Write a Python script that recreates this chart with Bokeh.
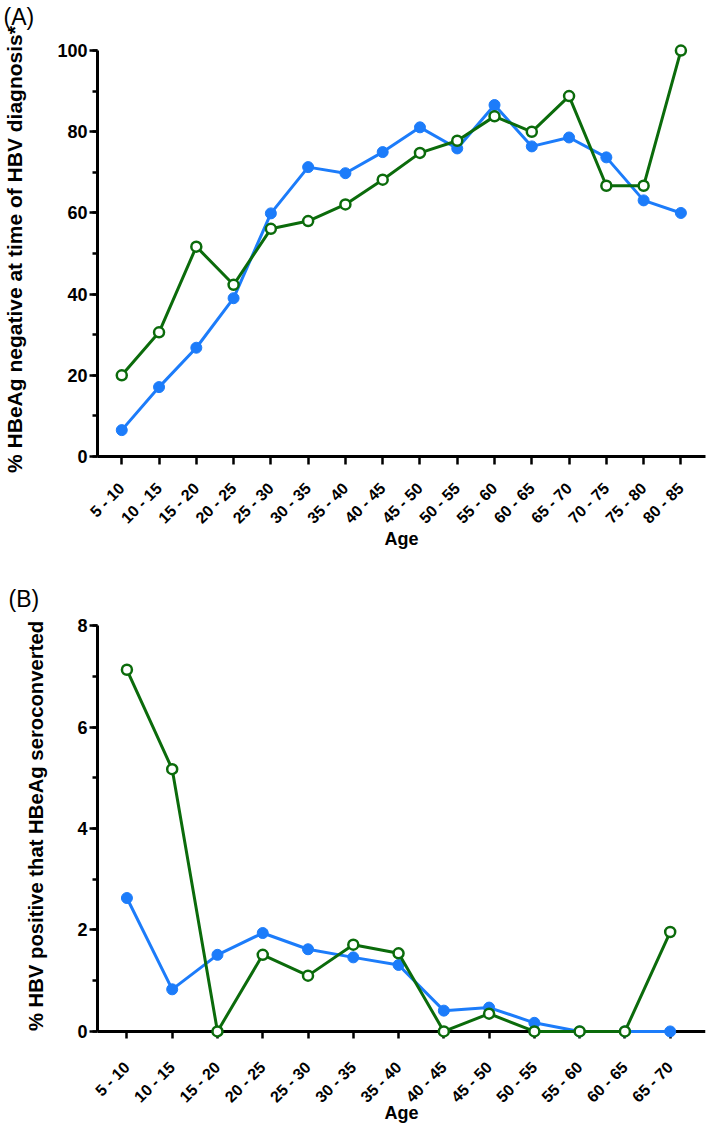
import math
from bokeh.plotting import figure
from bokeh.models import Range1d, FixedTicker, SingleIntervalTicker, Span, Title
from bokeh.layouts import column
from bokeh.embed import file_html
from bokeh.resources import INLINE

FONT = "Liberation Sans"
BLUE = "#1c7cfa"
GREEN = "#0b6b0b"

# ---------------- data ----------------
age_groups_a = ["5 - 10", "10 - 15", "15 - 20", "20 - 25", "25 - 30", "30 - 35",
                "35 - 40", "40 - 45", "45 - 50", "50 - 55", "55 - 60", "60 - 65",
                "65 - 70", "70 - 75", "75 - 80", "80 - 85"]
blue_a = [6.5, 17.1, 26.8, 39.0, 59.9, 71.3, 69.8, 75.0, 81.1, 75.9, 86.6, 76.4,
          78.6, 73.7, 63.1, 60.0]
green_a = [20.0, 30.6, 51.7, 42.3, 56.1, 58.0, 62.1, 68.2, 74.8, 77.8, 83.8, 80.0,
           88.8, 66.7, 66.7, 100.0]

age_groups_b = ["5 - 10", "10 - 15", "15 - 20", "20 - 25", "25 - 30", "30 - 35",
                "35 - 40", "40 - 45", "45 - 50", "50 - 55", "55 - 60", "60 - 65",
                "65 - 70"]
blue_b = [2.63, 0.83, 1.51, 1.94, 1.62, 1.46, 1.31, 0.41, 0.47, 0.17, 0.0, 0.0, 0.0]
green_b = [7.13, 5.17, 0.0, 1.51, 1.10, 1.71, 1.54, 0.0, 0.35, 0.0, 0.0, 0.0, 1.96]

ylabel_a = "% HBeAg negative at time of HBV diagnosis*"
ylabel_b = "% HBV positive that HBeAg seroconverted"
xlabel = "Age"


def build(cats, blue, green, ylabel, letter, width, height, x_range, y_range,
          y_bounds, y_interval, borders, x_tick_in, x_tick_out, x_label_standoff,
          y_title_standoff, y_title_size, x_title_standoff, title_standoff,
          spacer, zero_line):
    xs = list(range(len(cats)))
    p = figure(width=width, height=height,
               x_range=Range1d(*x_range), y_range=Range1d(*y_range),
               output_backend="svg", toolbar_location=None,
               min_border_left=borders[0], min_border_right=borders[1],
               min_border_top=borders[2], min_border_bottom=borders[3])
    p.outline_line_color = None
    p.grid.visible = False
    p.background_fill_color = "white"
    p.border_fill_color = "white"

    p.title.text = ""
    if spacer is not None:
        p.add_layout(Title(text=" ", text_font_size="1px", standoff=spacer,
                           text_color="white"), "above")
    p.add_layout(Title(text=letter, align="left", vertical_align="bottom",
                       offset=-(borders[0] - 2), text_font=FONT,
                       text_font_style="normal", text_font_size="23px",
                       text_color="black", standoff=title_standoff), "above")

    # x axis
    xa = p.xaxis[0]
    xa.ticker = FixedTicker(ticks=xs)
    xa.major_label_overrides = {i: c for i, c in enumerate(cats)}
    xa.major_label_orientation = math.pi / 4
    xa.major_label_text_font = FONT
    xa.major_label_text_font_style = "bold"
    xa.major_label_text_font_size = "16px"
    xa.major_label_text_color = "black"
    xa.major_label_standoff = x_label_standoff
    xa.major_tick_in = x_tick_in
    xa.major_tick_out = x_tick_out
    xa.major_tick_line_width = 2.5
    xa.major_tick_line_color = "black"
    xa.minor_tick_line_color = None
    xa.axis_line_width = 3
    xa.axis_line_color = None if zero_line else "black"
    xa.axis_label = xlabel
    xa.axis_label_text_font = FONT
    xa.axis_label_text_font_style = "bold"
    xa.axis_label_text_font_size = "18px"
    xa.axis_label_text_color = "black"
    xa.axis_label_standoff = x_title_standoff

    # y axis
    ya = p.yaxis[0]
    ya.ticker = SingleIntervalTicker(interval=y_interval, num_minor_ticks=2)
    ya.bounds = y_bounds
    ya.axis_line_width = 3
    ya.axis_line_color = "black"
    ya.major_tick_in = 0
    ya.major_tick_out = 8
    ya.minor_tick_in = 0
    ya.minor_tick_out = 5
    ya.major_tick_line_width = 2.5
    ya.minor_tick_line_width = 2.5
    ya.major_tick_line_color = "black"
    ya.minor_tick_line_color = "black"
    ya.major_label_text_font = FONT
    ya.major_label_text_font_style = "bold"
    ya.major_label_text_font_size = "18px"
    ya.major_label_text_color = "black"
    ya.major_label_standoff = 2
    ya.axis_label = ylabel
    ya.axis_label_text_font = FONT
    ya.axis_label_text_font_style = "bold"
    ya.axis_label_text_font_size = y_title_size
    ya.axis_label_text_color = "black"
    ya.axis_label_standoff = y_title_standoff

    if zero_line:
        p.add_layout(Span(location=0, dimension="width", line_color="black",
                          line_width=3, level="underlay"))

    r1 = p.line(xs, blue, line_color=BLUE, line_width=3)
    r2 = p.scatter(xs, blue, marker="circle", size=11, fill_color=BLUE,
                   line_color=BLUE, line_width=1)
    r3 = p.line(xs, green, line_color=GREEN, line_width=3)
    r4 = p.scatter(xs, green, marker="circle", size=10, fill_color="white",
                   line_color=GREEN, line_width=2.5)
    for r in (r1, r2, r3, r4):
        r.level = "overlay"
    return p


pa = build(age_groups_a, blue_a, green_a, ylabel_a, "(A)",
           width=709, height=560,
           x_range=(-0.651, 15.66), y_range=(0, 102), y_bounds=(0, 100),
           y_interval=20, borders=(96, 4, 42, 104),
           x_tick_in=0, x_tick_out=8, x_label_standoff=21,
           y_title_standoff=28, y_title_size="21px", x_title_standoff=-7,
           title_standoff=0, spacer=10, zero_line=False)

pb = build(age_groups_b, blue_b, green_b, ylabel_b, "(B)",
           width=709, height=565,
           x_range=(-0.65, 12.78), y_range=(-0.1, 8.2), y_bounds=(0, 8),
           y_interval=2, borders=(91, 4, 55, 88),
           x_tick_in=5, x_tick_out=2, x_label_standoff=26,
           y_title_standoff=27, y_title_size="20.3px", x_title_standoff=-12,
           title_standoff=7, spacer=None, zero_line=True)

layout = column(pa, pb, spacing=0)
open("out.html", "w").write(file_html(layout, INLINE))
